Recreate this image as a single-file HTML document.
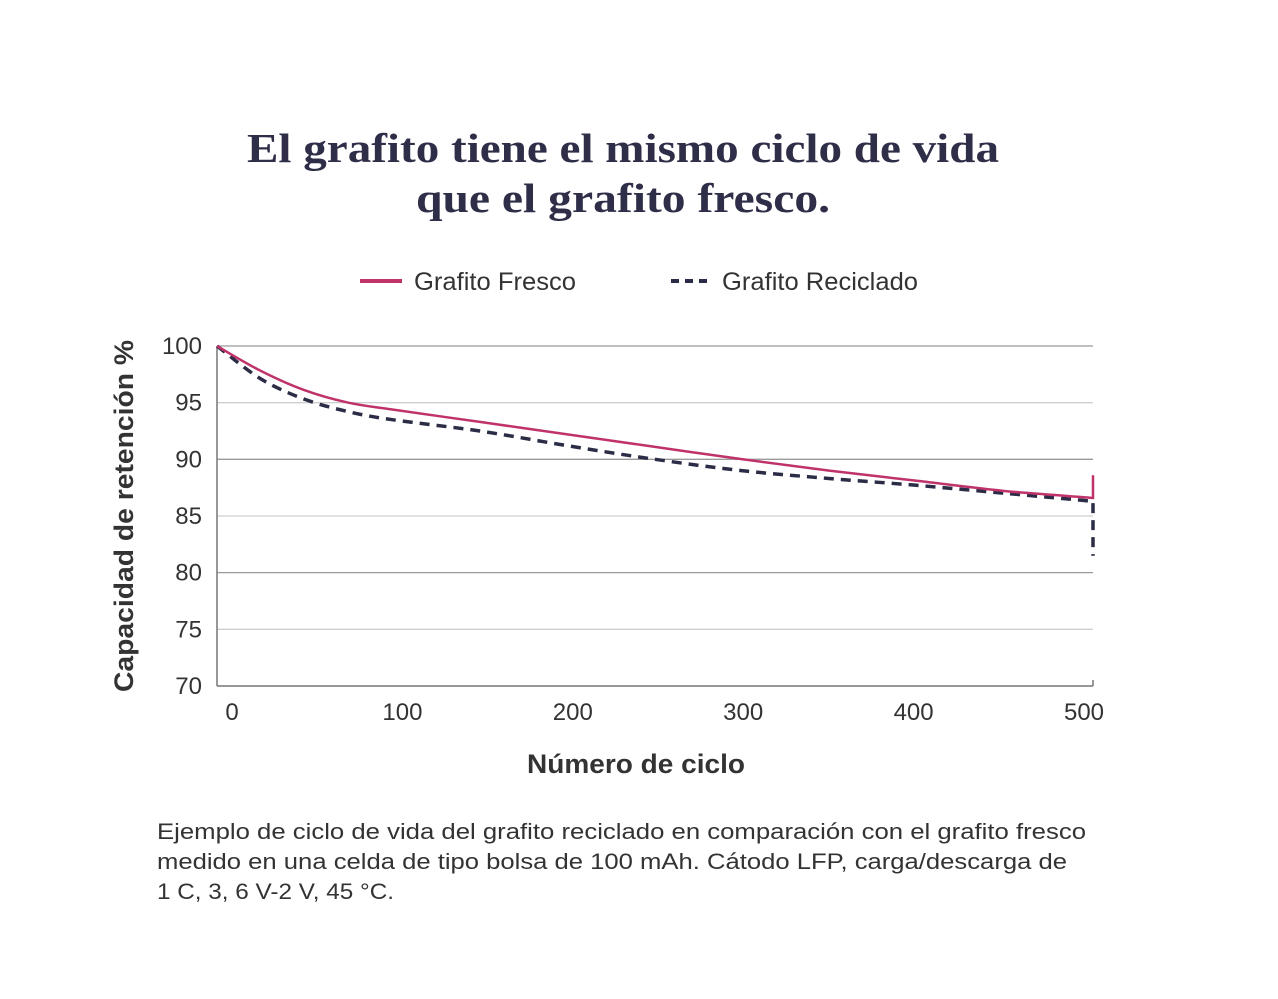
<!DOCTYPE html>
<html><head><meta charset="utf-8"><style>
body{margin:0;background:#fff;width:1278px;height:994px;overflow:hidden;font-family:"Liberation Sans",sans-serif}
</style></head><body>
<svg width="1278" height="994">
<text x="623" y="162" text-anchor="middle" font-family="Liberation Serif" font-weight="bold" font-size="41" fill="#2e2e48" textLength="752" lengthAdjust="spacingAndGlyphs">El grafito tiene el mismo ciclo de vida</text>
<text x="623" y="212" text-anchor="middle" font-family="Liberation Serif" font-weight="bold" font-size="41" fill="#2e2e48" textLength="414" lengthAdjust="spacingAndGlyphs">que el grafito fresco.</text>
<g>
<line x1="360" y1="281" x2="402" y2="281" stroke="#c0336a" stroke-width="4"/>
<text x="414" y="290" font-size="25" fill="#333" textLength="162" lengthAdjust="spacingAndGlyphs">Grafito Fresco</text>
<line x1="671" y1="281" x2="713" y2="281" stroke="#2b2c45" stroke-width="4" stroke-dasharray="8,6"/>
<text x="722" y="290" font-size="25" fill="#333" textLength="196" lengthAdjust="spacingAndGlyphs">Grafito Reciclado</text>
</g>
<g id="grid"></g>
<g id="axes"></g>
<g id="lines"></g>
<text transform="translate(133,516) rotate(-90)" text-anchor="middle" font-size="27" font-weight="bold" fill="#333" textLength="352" lengthAdjust="spacingAndGlyphs">Capacidad de retención %</text>
<text x="636" y="773" text-anchor="middle" font-size="27" font-weight="bold" fill="#333" textLength="218" lengthAdjust="spacingAndGlyphs">Número de ciclo</text>
<g font-size="22" fill="#333">
<text x="157" y="839" textLength="929" lengthAdjust="spacingAndGlyphs">Ejemplo de ciclo de vida del grafito reciclado en comparación con el grafito fresco</text>
<text x="157" y="869" textLength="910" lengthAdjust="spacingAndGlyphs">medido en una celda de tipo bolsa de 100 mAh. Cátodo LFP, carga/descarga de</text>
<text x="157" y="899" textLength="237" lengthAdjust="spacingAndGlyphs">1 C, 3, 6 V-2 V, 45 °C.</text>
</g>
</svg>
<script>
const yTicks=[70,75,80,85,90,95,100];
const xTicks=[0,100,200,300,400,500];
const cycles=[0,25,50,75,100,150,200,250,300,350,400,450,500];
const fresco=[100,97.8,96.1,95.0,94.4,93.3,92.2,91.1,90.0,89.0,88.1,87.2,86.6];
const reciclado=[100,97.1,95.3,94.2,93.5,92.5,91.2,90.0,89.0,88.3,87.7,87.0,86.3];
const frescoEnd=88.6;
const recicladoEnd=81.5;
const NS="http://www.w3.org/2000/svg";
const X=c=>217+c*1.752, Y=v=>346+(100-v)*11.333, XL=c=>232+c*1.704;
function mk(t,a,p){const e=document.createElementNS(NS,t);for(const k in a)e.setAttribute(k,a[k]);p.appendChild(e);return e;}
const g=document.getElementById('grid'),ax=document.getElementById('axes'),ln=document.getElementById('lines');
yTicks.forEach(v=>{
 if(v>70){const l=mk('line',{x1:217,x2:1093,y1:Y(v),y2:Y(v),stroke:(v%10?'#cfcfcf':'#9a9a9a'),'stroke-width':1.3},g);
 
 }
 const t=mk('text',{x:202,y:Y(v)+8,'text-anchor':'end','font-size':24,fill:'#333'},ax);t.textContent=v;
 
 
});
xTicks.forEach(c=>{const t=mk('text',{x:XL(c),y:720,'text-anchor':'middle','font-size':24,fill:'#333'},ax);t.textContent=c;
 
 });
let a=mk('line',{x1:217,x2:217,y1:346,y2:686,stroke:'#777','stroke-width':1.5},ax);


a=mk('line',{x1:217,x2:1093,y1:686,y2:686,stroke:'#777','stroke-width':1.5},ax);


mk('line',{x1:1093,x2:1093,y1:680,y2:686,stroke:'#777','stroke-width':1.5},ax);
function path(vals,end){
 const P=cycles.map((c,i)=>[X(c),Y(vals[i])]);
 let d='M'+P[0][0].toFixed(1)+' '+P[0][1].toFixed(1);
 for(let i=0;i<P.length-1;i++){
  const p0=P[Math.max(i-1,0)],p1=P[i],p2=P[i+1],p3=P[Math.min(i+2,P.length-1)];
  const c1=[p1[0]+(p2[0]-p0[0])/6,p1[1]+(p2[1]-p0[1])/6],c2=[p2[0]-(p3[0]-p1[0])/6,p2[1]-(p3[1]-p1[1])/6];
  d+=' C'+c1.map(n=>n.toFixed(1)).join(' ')+' '+c2.map(n=>n.toFixed(1)).join(' ')+' '+p2.map(n=>n.toFixed(1)).join(' ');
 }
 d+=' L'+X(500)+' '+Y(end).toFixed(1);return d;}
let p=mk('path',{d:path(reciclado,recicladoEnd),fill:'none',stroke:'#2b2c45','stroke-width':3.5,'stroke-dasharray':'10,7'},ln);


p=mk('path',{d:path(fresco,frescoEnd),fill:'none',stroke:'#c0336a','stroke-width':2.5},ln);


</script>
</body></html>
